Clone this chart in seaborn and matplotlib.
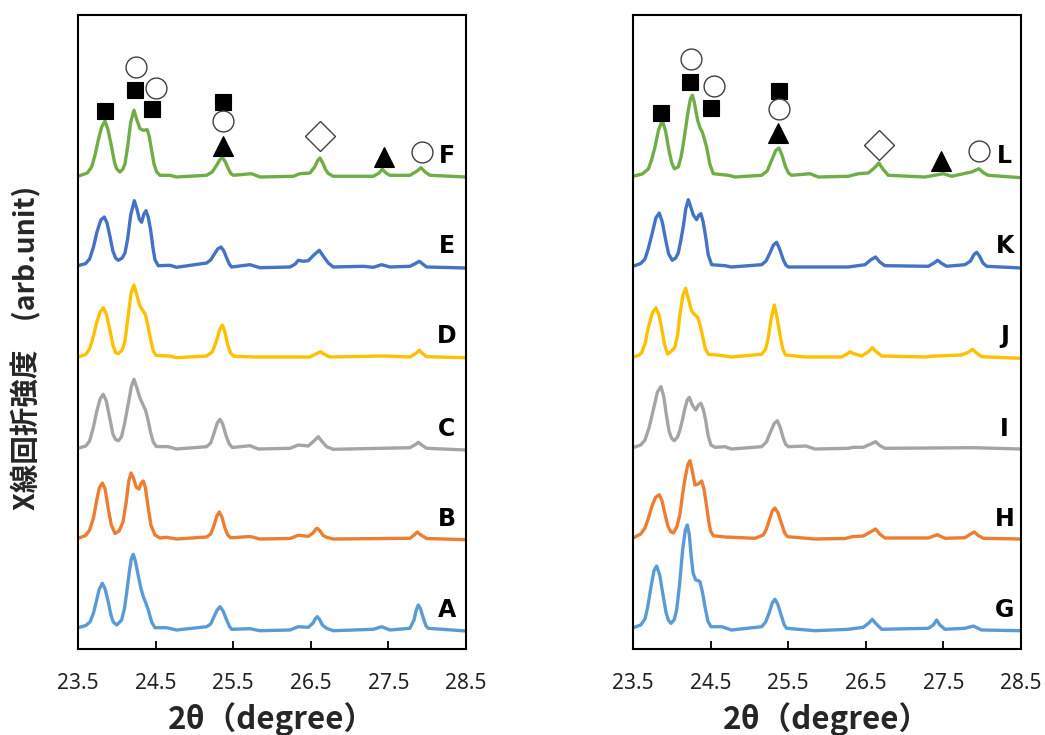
import numpy as np
import pandas as pd
import matplotlib
matplotlib.use("Agg")
import matplotlib.pyplot as plt
import seaborn as sns

# ---------------- data (2theta in degree, intensity in arb. units) ----------------
A = [(23.500, 2.3), (23.600, 4.5), (23.655, 8), (23.700, 17), (23.741, 30), (23.775, 41), (23.814, 46.7),
     (23.850, 41), (23.891, 28), (23.925, 15), (23.955, 8), (24.000, 5), (24.063, 10), (24.100, 22),
     (24.127, 36.7), (24.165, 60), (24.190, 72), (24.213, 75.7), (24.240, 69), (24.278, 54), (24.310, 42),
     (24.342, 33.3), (24.375, 27), (24.406, 20), (24.450, 8), (24.492, 2.3), (24.643, 2.3), (24.771, 0),
     (25.158, 3.3), (25.210, 6), (25.244, 11.7), (25.290, 19.5), (25.330, 23.3), (25.370, 19), (25.416, 10),
     (25.450, 4), (25.480, 0.7), (25.717, 1.3), (25.845, -0.7), (26.232, 0), (26.339, 3.3), (26.468, 2.7),
     (26.530, 7), (26.560, 11.5), (26.584, 13.3), (26.610, 11), (26.650, 5), (26.704, 1.7), (26.790, -0.7),
     (27.306, 0.7), (27.413, 3.3), (27.521, 0), (27.778, 1.7), (27.830, 10), (27.860, 20), (27.886, 25),
     (27.915, 21), (27.950, 12), (27.985, 4), (28.015, 1.7), (28.500, -1)]
B = [(23.500, 0.7), (23.600, 3.5), (23.650, 9), (23.700, 21), (23.740, 38), (23.775, 51), (23.814, 56),
     (23.850, 50), (23.891, 30), (23.930, 14), (23.977, 5.5), (24.030, 8), (24.080, 17), (24.120, 36),
     (24.155, 58), (24.183, 66), (24.215, 61), (24.250, 52), (24.286, 50), (24.315, 56), (24.342, 58),
     (24.370, 51), (24.400, 34), (24.440, 14), (24.492, 4), (24.557, 1), (24.643, 1.7), (24.771, 0),
     (25.158, 2), (25.210, 5), (25.250, 13), (25.290, 23), (25.321, 27), (25.355, 22), (25.394, 11),
     (25.430, 4), (25.470, 1.2), (25.717, 2.5), (25.845, 0), (26.232, 0.5), (26.339, 3.7), (26.468, 2.7),
     (26.530, 6), (26.560, 9.5), (26.584, 10.7), (26.615, 8.5), (26.660, 3.5), (26.704, 1.7), (26.790, 0),
     (27.778, 0.7), (27.840, 4.5), (27.873, 7), (27.910, 4.5), (27.993, 0.5), (28.500, -0.7)]
C = [(23.500, 0.7), (23.600, 3), (23.650, 8), (23.700, 22), (23.740, 37), (23.785, 50), (23.826, 54.7),
     (23.865, 48), (23.912, 30), (23.950, 15), (23.985, 9.5), (24.020, 8.3), (24.060, 12), (24.100, 25),
     (24.149, 45.7), (24.190, 63), (24.222, 69.7), (24.255, 62), (24.299, 51), (24.340, 44), (24.370, 39),
     (24.400, 30), (24.435, 17), (24.470, 7), (24.510, 2.5), (24.664, 2.3), (24.771, 0), (25.158, 2.3),
     (25.210, 6), (25.250, 15), (25.295, 26), (25.330, 29.7), (25.365, 25), (25.410, 13), (25.450, 5),
     (25.490, 1.5), (25.717, 3.3), (25.824, 0), (26.232, 0.7), (26.339, 4), (26.468, 3), (26.540, 8),
     (26.597, 12.3), (26.640, 8), (26.704, 2.3), (26.790, -0.3), (27.778, 1.3), (27.850, 4.5), (27.886, 6.7),
     (27.930, 4), (27.993, 0.7), (28.500, -1)]
D = [(23.500, 0), (23.600, 2.5), (23.650, 8), (23.700, 21), (23.740, 34), (23.785, 45), (23.826, 49.3),
     (23.865, 43), (23.912, 27), (23.950, 12), (23.985, 4.5), (24.020, 3.3), (24.070, 7), (24.106, 16),
     (24.145, 40), (24.185, 64), (24.222, 72), (24.255, 63), (24.299, 51), (24.340, 46), (24.370, 42),
     (24.400, 32), (24.435, 18), (24.470, 6), (24.510, 1.5), (24.686, 1), (24.771, -0.7), (25.158, 1),
     (25.230, 5), (25.280, 15), (25.330, 28), (25.360, 32), (25.390, 26), (25.430, 12), (25.470, 3.5),
     (25.510, 0.8), (25.759, 0), (26.490, 0), (26.580, 3.5), (26.627, 5.3), (26.680, 2.5), (26.747, 0),
     (27.435, 1), (27.778, 0), (27.860, 4), (27.899, 6.7), (27.940, 3.5), (27.993, 0.3), (28.500, -0.7)]
E = [(23.500, 1.3), (23.600, 3.5), (23.650, 8), (23.700, 20), (23.745, 35), (23.795, 47), (23.839, 50),
     (23.875, 44), (23.912, 30.7), (23.950, 16), (23.985, 9), (24.020, 6.7), (24.070, 9), (24.106, 14),
     (24.140, 28), (24.180, 52), (24.226, 66.3), (24.260, 58), (24.290, 48), (24.320, 44.7), (24.350, 53),
     (24.376, 56.3), (24.405, 50), (24.436, 37.3), (24.465, 20), (24.492, 7.3), (24.535, 1.3), (24.686, 1.7),
     (24.771, -0.3), (25.158, 4), (25.210, 7), (25.253, 12.3), (25.300, 18), (25.343, 20), (25.380, 16),
     (25.416, 9), (25.450, 3), (25.480, 0), (25.717, 2.3), (25.845, -0.7), (26.232, 0), (26.300, 3),
     (26.339, 6.7), (26.404, 5.7), (26.468, 6.3), (26.540, 12), (26.610, 16.7), (26.660, 11), (26.726, 4),
     (26.790, 0), (27.177, 0.7), (27.306, -0.3), (27.413, 2.3), (27.521, 0), (27.778, 0.7), (27.850, 3.5),
     (27.899, 5.7), (27.950, 2.5), (27.993, 0), (28.500, -1)]
F = [(23.500, 0.7), (23.620, 4), (23.676, 10), (23.720, 22), (23.762, 37), (23.805, 50), (23.848, 56),
     (23.885, 48), (23.934, 30), (23.970, 15), (23.998, 8.3), (24.041, 5), (24.080, 8), (24.106, 13.3),
     (24.140, 30), (24.180, 55), (24.222, 66.7), (24.255, 58), (24.299, 48.3), (24.342, 46.7), (24.393, 47.3),
     (24.420, 40), (24.449, 26.7), (24.480, 13), (24.514, 5), (24.557, 1.7), (24.686, 1.7), (24.771, 0),
     (25.158, 1.7), (25.230, 5), (25.287, 11.7), (25.330, 17.5), (25.364, 19.3), (25.400, 15), (25.437, 8.3),
     (25.470, 3.5), (25.502, 1.7), (25.738, 3.3), (25.845, 0), (26.275, 0.7), (26.361, 3.3), (26.490, 4),
     (26.550, 10), (26.590, 16.5), (26.619, 19), (26.655, 14), (26.690, 7.5), (26.726, 3.5), (26.790, 0.7),
     (27.306, 0.7), (27.380, 4), (27.422, 7.7), (27.470, 4), (27.521, 1.7), (27.778, 1.7), (27.870, 6),
     (27.920, 9.3), (27.975, 5), (28.036, 1.7), (28.500, 0)]

G = [(23.500, 2.3), (23.600, 5), (23.655, 11), (23.690, 23), (23.730, 42), (23.770, 59), (23.805, 64),
     (23.845, 55), (23.891, 33.3), (23.925, 18), (23.955, 10), (23.990, 6.7), (24.030, 10), (24.063, 20),
     (24.100, 45), (24.140, 80), (24.175, 100), (24.200, 105), (24.225, 96), (24.250, 74), (24.275, 57),
     (24.308, 50), (24.340, 49.5), (24.363, 48.3), (24.395, 38), (24.428, 23.3), (24.465, 9), (24.505, 3.3),
     (24.643, 3.3), (24.771, 0), (25.158, 3.3), (25.210, 8), (25.253, 16.7), (25.295, 27), (25.330, 30.7),
     (25.365, 26), (25.416, 13.3), (25.450, 5), (25.480, 1.7), (25.845, -0.7), (26.275, 0.7), (26.468, 2.7),
     (26.540, 7), (26.584, 10.7), (26.630, 6.5), (26.704, 0.7), (27.306, 1.7), (27.370, 5), (27.413, 10),
     (27.455, 5), (27.521, 0.7), (27.778, 1.7), (27.886, 4), (27.993, 0), (28.500, -0.7)]
H = [(23.500, 1), (23.600, 5), (23.655, 11), (23.700, 21), (23.741, 32), (23.790, 41.5), (23.839, 44.3),
     (23.875, 38), (23.912, 25), (23.950, 13), (23.985, 7.5), (24.020, 6), (24.065, 12), (24.106, 25),
     (24.140, 45), (24.170, 60), (24.205, 74), (24.235, 78.3), (24.265, 68), (24.299, 54), (24.340, 55),
     (24.385, 58), (24.415, 50), (24.449, 33), (24.475, 18), (24.500, 8), (24.535, 3.3), (24.686, 2),
     (25.072, 0.7), (25.180, 4), (25.220, 10), (25.253, 18), (25.295, 28), (25.330, 31), (25.370, 26),
     (25.416, 15), (25.455, 6), (25.493, 2.3), (25.845, 0), (26.232, 0.5), (26.326, 2.3), (26.468, 3),
     (26.570, 7.5), (26.627, 10), (26.680, 5), (26.747, 1), (27.306, 1), (27.422, 4.3), (27.521, 0.7),
     (27.778, 1.3), (27.850, 5), (27.899, 7), (27.950, 3.5), (28.015, 0.7), (28.500, 0)]
I = [(23.500, 1.3), (23.600, 4), (23.655, 9), (23.710, 22), (23.762, 39), (23.815, 57), (23.861, 62.3),
     (23.898, 52), (23.934, 32.3), (23.965, 18), (23.998, 10.7), (24.033, 8.3), (24.075, 12), (24.106, 19),
     (24.140, 30), (24.170, 40.7), (24.200, 49), (24.226, 51.7), (24.265, 44), (24.308, 39), (24.345, 44),
     (24.376, 45.7), (24.405, 40), (24.436, 29), (24.470, 13), (24.505, 4), (24.557, 1.7), (24.686, 2.3),
     (24.771, 0), (25.158, 2.3), (25.220, 7), (25.265, 15.7), (25.320, 25.5), (25.360, 28.3), (25.400, 21),
     (25.437, 10.7), (25.470, 4.5), (25.502, 2.3), (25.729, 3), (25.845, 0), (26.275, 0.7), (26.339, 1.7),
     (26.468, 1.7), (26.580, 5.5), (26.627, 7.3), (26.680, 3.5), (26.747, 0.7), (27.886, 1.3), (28.500, 0)]
J = [(23.500, 0), (23.570, 1.5), (23.612, 4.3), (23.655, 13), (23.698, 29.3), (23.750, 44), (23.796, 49.3),
     (23.835, 42), (23.869, 29.3), (23.905, 13), (23.947, 3), (23.998, 6), (24.041, 10), (24.075, 22),
     (24.106, 42.7), (24.145, 62), (24.179, 68.7), (24.215, 58), (24.256, 46), (24.300, 42), (24.333, 40),
     (24.365, 32), (24.393, 22.7), (24.430, 9), (24.471, 2.7), (24.643, 1.5), (24.771, 0), (25.158, 2.7),
     (25.210, 8), (25.244, 19.3), (25.280, 38), (25.321, 52), (25.355, 40), (25.394, 22.7), (25.430, 8),
     (25.467, 2), (25.717, 0), (26.189, 0), (26.260, 3), (26.296, 5.3), (26.340, 3.5), (26.447, 1),
     (26.530, 5), (26.584, 9.3), (26.640, 5), (26.704, 1), (27.263, 0), (27.400, 1), (27.735, 2),
     (27.830, 5), (27.873, 7.7), (27.920, 4.5), (27.993, 0.3), (28.500, -1.3)]
K = [(23.500, 0.7), (23.600, 3.5), (23.655, 8), (23.700, 19), (23.749, 34), (23.795, 49), (23.839, 54),
     (23.878, 45), (23.921, 27.3), (23.960, 13), (24.007, 6.7), (24.050, 9), (24.084, 14), (24.120, 28),
     (24.149, 40.7), (24.180, 58), (24.213, 67.3), (24.245, 60), (24.278, 52), (24.320, 47.3), (24.350, 52),
     (24.376, 53.3), (24.405, 45), (24.436, 30.7), (24.470, 12), (24.514, 2.3), (24.686, 1.3), (24.771, 0),
     (25.158, 2.3), (25.215, 6), (25.265, 14), (25.310, 22), (25.351, 24.7), (25.390, 18), (25.437, 7.3),
     (25.470, 2), (25.502, 0), (26.275, 0), (26.490, 2.3), (26.570, 7.5), (26.627, 10), (26.680, 5),
     (26.747, 1.3), (27.306, 0.7), (27.380, 4), (27.426, 6.7), (27.480, 3.5), (27.542, 0.7), (27.778, 2.3),
     (27.850, 6), (27.895, 12.5), (27.929, 14.7), (27.965, 11), (28.010, 4), (28.058, 0.7), (28.500, -1)]
L = [(23.500, 0.7), (23.620, 3), (23.698, 8), (23.740, 17), (23.784, 30), (23.830, 47), (23.878, 56.7),
     (23.920, 46), (23.964, 26.7), (24.000, 14), (24.033, 8.3), (24.084, 10), (24.120, 20), (24.149, 33.3),
     (24.185, 52), (24.213, 66.7), (24.240, 78), (24.265, 81.7), (24.290, 75), (24.333, 56.7), (24.365, 49),
     (24.393, 45), (24.420, 38), (24.449, 30), (24.490, 13), (24.535, 3.3), (24.729, 1.7), (24.814, 0),
     (25.158, 1.7), (25.230, 6), (25.287, 16.7), (25.340, 26.5), (25.381, 29), (25.420, 22), (25.467, 10),
     (25.505, 4), (25.545, 1.7), (25.781, 3.3), (25.888, 0), (26.275, 0.7), (26.404, 3.3), (26.533, 4),
     (26.610, 9), (26.670, 14), (26.720, 8), (26.790, 1.7), (27.263, 0), (27.499, 3.3), (27.607, 0.7),
     (27.800, 4), (27.864, 5), (27.959, 8.3), (28.020, 4), (28.079, 1.7), (28.500, -0.7)]

left_names = ["A", "B", "C", "D", "E", "F"]
right_names = ["G", "H", "I", "J", "K", "L"]
left_series = [A, B, C, D, E, F]
right_series = [G, H, I, J, K, L]
colors = ["#5B9BD5", "#ED7D31", "#A5A5A5", "#FFC000", "#4472C4", "#70AD47"]
x_ticks = [23.5, 24.5, 25.5, 26.5, 27.5, 28.5]

# peak phase markers: (marker, 2theta, height position)
left_marks = [("s", 23.848, 538.3), ("o", 24.247, 582.3), ("s", 24.235, 559.0), ("o", 24.505, 560.7),
              ("s", 24.458, 539.7), ("s", 25.373, 547.3), ("o", 25.373, 528.3), ("^", 25.373, 503.0),
              ("D", 26.619, 513.0), ("^", 27.448, 492.3), ("o", 27.937, 497.3)]
right_marks = [("s", 23.857, 535.7), ("o", 24.247, 590.0), ("s", 24.235, 566.7), ("o", 24.544, 563.3),
               ("s", 24.509, 541.3), ("s", 25.381, 558.0), ("o", 25.381, 539.7), ("^", 25.373, 516.3),
               ("D", 26.670, 504.0), ("^", 27.469, 488.0), ("o", 27.959, 498.3)]

# ---------------- layout ----------------
offsets = [19, 110, 200, 292, 382, 472]
Y_TOP = 634

sns.set_theme(style="white")
plt.rcParams["font.family"] = ["DejaVu Sans"]

fig = plt.figure(figsize=(10.45, 7.35), dpi=100)
ax_l = fig.add_axes([0.0746, 0.117, 0.3713, 0.8626])
ax_r = fig.add_axes([0.6057, 0.117, 0.3713, 0.8626])

cjk = ["Noto Sans CJK JP", "DejaVu Sans"]

marker_style = {
    "s": dict(ms=12, mfc="black", mec="black", mew=0.8),
    "o": dict(ms=15, mfc="white", mec="#404040", mew=1.0),
    "^": dict(ms=15, mfc="black", mec="black", mew=0.8),
    "D": dict(ms=15, mfc="white", mec="#404040", mew=1.0),
}

for ax, series, names, marks, lab_x in [
    (ax_l, left_series, left_names, left_marks, 28.25),
    (ax_r, right_series, right_names, right_marks, 28.29),
]:
    for s, name, col, off in zip(series, names, colors, offsets):
        df = pd.DataFrame(s, columns=["two_theta", "intensity"])
        df["y"] = df["intensity"] + off
        sns.lineplot(data=df, x="two_theta", y="y", ax=ax, color=col, lw=2.4,
                     estimator=None, sort=False, legend=False)
        ax.text(lab_x, off + 20.5, name, ha="center", va="center",
                fontsize=17, fontweight="bold", color="black")
    for m, mx, my in marks:
        ax.plot([mx], [my], marker=m, linestyle="none", **marker_style[m])

    ax.set_xlim(23.5, 28.5)
    ax.set_ylim(0, Y_TOP)
    ax.set_xticks(x_ticks)
    ax.set_xticklabels([f"{t:.1f}" for t in x_ticks], fontsize=15, family="Noto Sans")
    ax.set_yticks([])
    ax.tick_params(axis="x", direction="in", length=6, width=1.3, pad=17, colors="black",
                   bottom=True, labelcolor="#222222")
    for sp in ax.spines.values():
        sp.set_visible(True)
        sp.set_color("black")
        sp.set_linewidth(1.5)
    ax.set_xlabel("2θ（degree）", fontsize=22.5, fontweight="bold", family=cjk, labelpad=6)
    ax.set_ylabel("")

fig.text(0.025, 0.527, "X線回折強度　(arb.unit)", rotation=90, ha="center", va="center",
         fontsize=20.5, fontweight="bold", family=cjk)

fig.savefig("out.png", dpi=100)
